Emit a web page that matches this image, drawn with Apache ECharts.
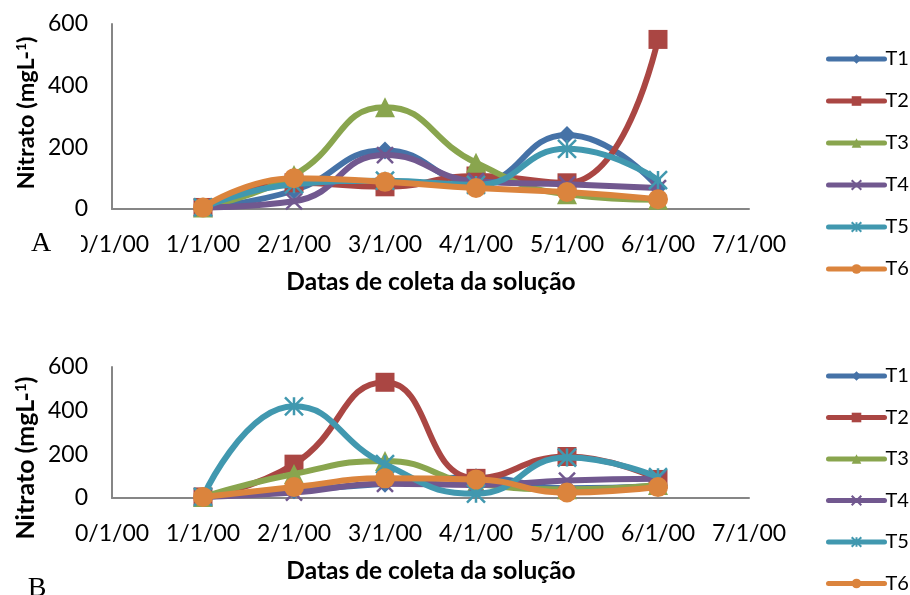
<!DOCTYPE html>
<html><head><meta charset="utf-8">
<script src="https://cdn.jsdelivr.net/npm/echarts@6/dist/echarts.min.js"></script>
<style>html,body{margin:0;padding:0;background:#fff}#c{width:910px;height:595px}</style>
</head><body><div id="c"></div>
<script>
// ---- data ----
const xDates = [1, 2, 3, 4, 5, 6];
const xTickLabels = ['0/1/00','1/1/00','2/1/00','3/1/00','4/1/00','5/1/00','6/1/00','7/1/00'];
const yTicks = [0, 200, 400, 600];
const seriesNames = ['T1','T2','T3','T4','T5','T6'];
// Chart A
const aT1 = [5, 60, 190, 85, 240, 70];
const aT2 = [5, 85, 72, 107, 85, 550];
const aT3 = [5, 110, 330, 150, 48, 30];
const aT4 = [5, 25, 175, 90, 80, 68];
const aT5 = [5, 80, 92, 78, 195, 94];
const aT6 = [5, 100, 88, 68, 55, 32];
// Chart B
const bT1 = [5, 35, 65, 95, 45, 55];
const bT2 = [5, 155, 530, 90, 190, 85];
const bT3 = [5, 110, 170, 65, 40, 60];
const bT4 = [5, 25, 65, 60, 80, 88];
const bT5 = [5, 420, 155, 20, 185, 95];
const bT6 = [5, 50, 90, 85, 25, 50];

// ---- styles ----
const colors = ['#4572A7','#AA4643','#89A54E','#71588F','#4198AF','#DB843D'];
const symbols = ['diamond','rect','triangle',
  'path://M0,0L10,10M10,0L0,10',
  'path://M0,0L10,10M10,0L0,10M5,0L5,10',
  'circle'];
const symSizes = [18, 19, 20, 16, 18, 20];
const FONT = 'Lato';

const chart = echarts.init(document.getElementById('c'), null, {renderer: 'canvas'});

function mkSeries(vals, i, grid) {
  const isPath = symbols[i].startsWith('path');
  return {
    type: 'line', name: seriesNames[i], xAxisIndex: grid, yAxisIndex: grid,
    data: xDates.map((x, k) => [x, vals[k]]),
    smooth: 0.5, showAllSymbol: true,
    symbol: symbols[i], symbolSize: symSizes[i],
    lineStyle: {color: colors[i], width: 6, cap: 'round', join: 'round'},
    itemStyle: isPath ? {color: colors[i], borderColor: colors[i], borderWidth: 2.5} : {color: colors[i]},
    emphasis: {disabled: true},
    z: 2 + i
  };
}

const gridsTop = [24, 367];
const gridsH = [185, 131];

function xAxis(g) {
  return {
    type: 'value', gridIndex: g, min: 0, max: 7, interval: 1,
    axisLine: {show: true, lineStyle: {color: '#868686', width: 2}},
    axisTick: {show: false}, splitLine: {show: false},
    axisLabel: {margin: 24, fontFamily: FONT, fontSize: 23, color: '#000',
      formatter: v => xTickLabels[v]}
  };
}
function yAxis(g) {
  return {
    type: 'value', gridIndex: g, min: 0, max: 600, interval: 200,
    axisLine: {show: true, lineStyle: {color: '#868686', width: 2}},
    axisTick: {show: false}, splitLine: {show: false},
    axisLabel: {margin: 24, fontFamily: FONT, fontSize: 23, color: '#000'}
  };
}
function legend(top, gap) {
  return {
    orient: 'vertical', left: 826, top: top, itemWidth: 56, itemHeight: 12, itemGap: gap,
    padding: 0, data: seriesNames, selectedMode: false,
    lineStyle: {width: 5},
    textStyle: {fontFamily: FONT, fontSize: 20, color: '#000', padding: [0,0,0,-4]}
  };
}
function ytitle(x, y, size) {
  return {type: 'text', x: x, y: y, rotation: Math.PI/2, z: 100,
    style: {text: '{a|Nitrato (mgL-}{s|1}{a|)}', align: 'center', verticalAlign: 'middle',
      rich: {a: {fontFamily: FONT, fontWeight: 'bold', fontSize: size, fill: '#000'},
             s: {fontFamily: FONT, fontWeight: 'bold', fontSize: Math.round(size*0.6), fill: '#000', verticalAlign: 'top'}}}};
}
function xtitle(y) {
  return {type: 'text', x: 431, y: y, z: 100,
    style: {text: 'Datas de coleta da solução', align: 'center', verticalAlign: 'middle',
      fontFamily: FONT, fontWeight: 'bold', fontSize: 24.5, fill: '#000'}};
}

const topVals = [aT1, aT2, aT3, aT4, aT5, aT6];
const botVals = [bT1, bT2, bT3, bT4, bT5, bT6];

chart.setOption({
  animation: false,
  backgroundColor: '#fff',
  grid: [
    {left: 112, top: gridsTop[0], width: 637, height: gridsH[0]},
    {left: 112, top: gridsTop[1], width: 637, height: gridsH[1]}
  ],
  xAxis: [xAxis(0), xAxis(1)],
  yAxis: [yAxis(0), yAxis(1)],
  legend: [legend(49, 22), legend(366, 21.5)],
  series: topVals.map((v, i) => mkSeries(v, i, 0)).concat(botVals.map((v, i) => mkSeries(v, i, 1))),
  graphic: [
    ytitle(26, 113, 23.5), ytitle(26, 458, 25),
    xtitle(282), xtitle(571),
    {type: 'rect', shape: {x: 0, y: 228, width: 81, height: 34}, style: {fill: '#fff'}, z: 90},
    {type: 'text', x: 41, y: 244, z: 100, style: {text: 'A', align: 'center', verticalAlign: 'middle',
      fontFamily: 'Liberation Serif', fontSize: 28, fill: '#000'}},
    {type: 'text', x: 37, y: 589, z: 100, style: {text: 'B', align: 'center', verticalAlign: 'middle',
      fontFamily: 'Liberation Serif', fontSize: 28, fill: '#000'}}
  ]
});
</script></body></html>
